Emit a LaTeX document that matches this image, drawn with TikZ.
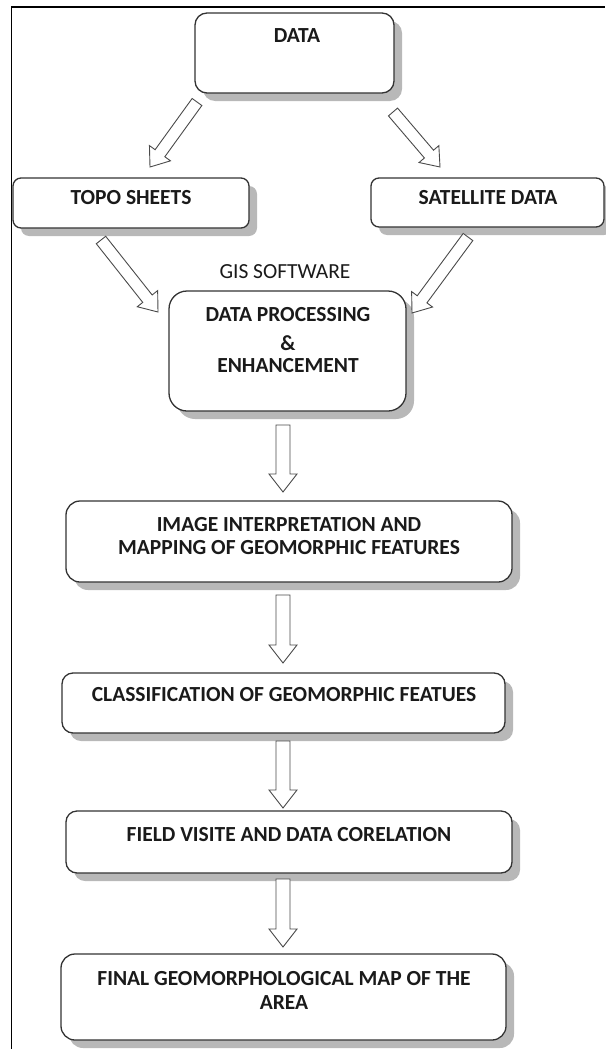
\documentclass[tikz,border=0pt]{standalone}
\usepackage{fontspec}
\setmainfont{Carlito}
\usetikzlibrary{calc,shadows}
\definecolor{boxline}{HTML}{333333}
\definecolor{arrline}{HTML}{4A4A4A}
\definecolor{shade}{HTML}{B8B8B8}
\definecolor{ink}{HTML}{1A1A1A}
\newcommand{\barrow}[5]{%
  \coordinate (hb) at ($(#2)!#5!(#1)$);
  \draw[blockarr] ($(#1)!#3!90:(#2)$) -- ($(hb)!#3!90:(#2)$) -- ($(hb)!#4!90:(#2)$) -- (#2)
    -- ($(hb)!#4!-90:(#2)$) -- ($(hb)!#3!-90:(#2)$) -- ($(#1)!#3!-90:(#2)$) -- cycle;}
\begin{document}
\begin{tikzpicture}[x=1pt,y=-1pt,
  box/.style={draw=boxline, line width=1.3pt, fill=white, rounded corners=10pt,
    drop shadow={shadow xshift=8pt, shadow yshift=-8pt, fill=shade, opacity=1}},
  txt/.style={font=\fontsize{21.5}{23}\selectfont\bfseries, text=ink, inner sep=0pt},
  gtxt/.style={font=\fontsize{21.5}{23}\selectfont, text=ink, inner sep=0pt},
  blockarr/.style={draw=arrline, line width=0.9pt, fill=white, line join=miter}]
\useasboundingbox (0,0) rectangle (605,1049);
% frame
\coordinate (frTL) at (11.7,7);
\coordinate (frTR) at (605,7);
\coordinate (frBL) at (11.7,1049);
\draw[line width=1.3pt] (frBL) -- (frTL) -- (frTR);
% boxes
\node[box, minimum width=199pt, minimum height=80pt, rounded corners=12pt] (data) at (294.5,53) {};
\node[box, minimum width=236pt, minimum height=50pt, rounded corners=8pt] (topo) at (131,203) {};
\node[box, minimum width=233pt, minimum height=49pt, rounded corners=8pt] (sat) at (487.5,202.5) {};
\node[box, minimum width=237pt, minimum height=120pt, rounded corners=18pt] (dp) at (287.5,351) {};
\node[box, minimum width=446pt, minimum height=81pt, rounded corners=14pt] (img) at (289,541.5) {};
\node[box, minimum width=443pt, minimum height=60pt, rounded corners=11pt] (cls) at (283.5,703) {};
\node[box, minimum width=446pt, minimum height=62pt, rounded corners=11pt] (fld) at (289,842) {};
\node[box, minimum width=445pt, minimum height=86pt, rounded corners=14pt] (fin) at (283.5,997) {};
% texts
\node[txt] (dataT) at (297,36) {DATA};
\node[txt] (topoT) at (131,198) {TOPO SHEETS};
\node[txt] (satT) at (488,198) {SATELLITE DATA};
\node[gtxt] (gisT) at (285,272) {GIS SOFTWARE};
\node[txt] (dpT1) at (288,315) {DATA PROCESSING};
\node[txt] (dpT2) at (288,343) {\&};
\node[txt] (dpT3) at (288,366) {ENHANCEMENT};
\node[txt] (imgT1) at (289,525) {IMAGE INTERPRETATION AND};
\node[txt] (imgT2) at (289,548) {MAPPING OF GEOMORPHIC FEATURES};
\node[txt] (clsT) at (284,695) {CLASSIFICATION OF GEOMORPHIC FEATUES};
\node[txt] (fldT) at (289,835) {FIELD VISITE AND DATA CORELATION};
\node[txt] (finT1) at (284,979) {FINAL GEOMORPHOLOGICAL MAP OF THE};
\node[txt] (finT2) at (284,1003) {AREA};
% arrow end points
\coordinate (a1s) at (197,102); \coordinate (a1e) at (150,167);
\coordinate (a2s) at (393,112); \coordinate (a2e) at (440,167);
\coordinate (a3s) at (101,240); \coordinate (a3e) at (158,312);
\coordinate (a4s) at (468,237); \coordinate (a4e) at (412,313);
\coordinate (v1s) at (283,425); \coordinate (v1e) at (283,492);
\coordinate (v2s) at (283,595); \coordinate (v2e) at (283,663);
\coordinate (v3s) at (283,741); \coordinate (v3e) at (283,808);
\coordinate (v4s) at (283,879); \coordinate (v4e) at (283,947);
% arrows
\barrow{a1s}{a1e}{6pt}{13pt}{17pt}
\barrow{a2s}{a2e}{6pt}{13pt}{17pt}
\barrow{a3s}{a3e}{6pt}{13pt}{17pt}
\barrow{a4s}{a4e}{6pt}{13pt}{17pt}
\barrow{v1s}{v1e}{7pt}{14pt}{18pt}
\barrow{v2s}{v2e}{7pt}{14pt}{18pt}
\barrow{v3s}{v3e}{7pt}{14pt}{18pt}
\barrow{v4s}{v4e}{7pt}{14pt}{18pt}
\end{tikzpicture}
\end{document}
